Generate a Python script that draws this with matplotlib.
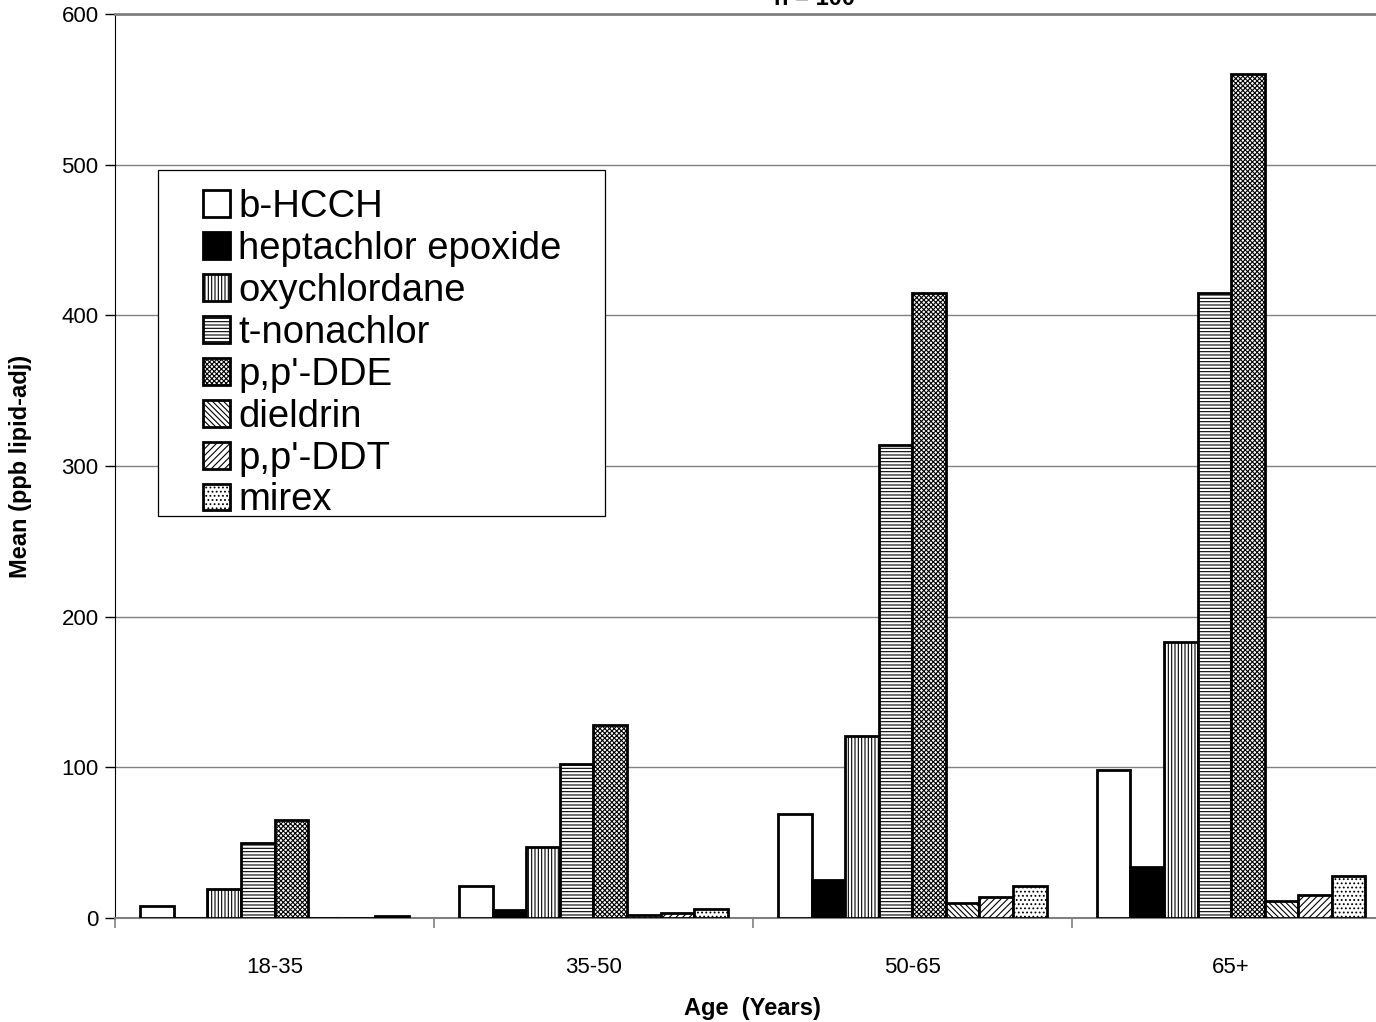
import matplotlib.pyplot as plt
from matplotlib.patches import Rectangle
import numpy as np

plt.rcParams['font.family'] = ['Liberation Sans', 'DejaVu Sans']
plt.rcParams['hatch.linewidth'] = 0.8

# === Données ===
ages = ['18-35', '35-50', '50-65', '65+']
composes = ['b-HCCH', 'heptachlor epoxide', 'oxychlordane', 't-nonachlor',
            "p,p'-DDE", 'dieldrin', "p,p'-DDT", 'mirex']

b_hcch = [8, 21, 69, 98]
heptachlor = [0, 5, 25, 34]
oxychlordane = [19, 47, 121, 183]
t_nonachlor = [50, 102, 314, 415]
pp_dde = [65, 128, 415, 560]
dieldrin = [0, 2, 10, 11]
pp_ddt = [0, 3, 14, 15]
mirex = [1, 6, 21, 28]

series = [b_hcch, heptachlor, oxychlordane, t_nonachlor, pp_dde, dieldrin, pp_ddt, mirex]

# remplissage et motif par composé
styles = [
    ('white', ''),
    ('black', ''),
    ('white', '|||||'),
    ('white', '-----'),
    ('white', 'xxxxxxx'),
    ('white', '\\\\\\\\\\\\'),
    ('white', '/////'),
    ('white', '....'),
]

W, H = 1376, 1022
fig = plt.figure(figsize=(W / 100, H / 100), dpi=100)
ax = fig.add_axes([115.2 / W, 104 / H, 1275.4 / W, 904 / H])

x = np.arange(len(ages))
larg = 1 / 9.5
for i, (vals, (fc, hatch)) in enumerate(zip(series, styles)):
    ax.bar(x + (i - 3.5) * larg, vals, larg, color=fc, hatch=hatch,
           edgecolor='black', linewidth=2.0, label=composes[i], zorder=3)

ax.set_xlim(-0.5, 3.5)
ax.set_ylim(0, 600)
ax.set_yticks(range(0, 601, 100))
ax.yaxis.grid(True, color='#808080', linewidth=1.0, zorder=0)

ax.set_xticks(x)
ax.set_xticklabels(ages, fontsize=16)
ax.set_xticks(np.arange(-0.5, 4, 1), minor=True)
ax.tick_params(axis='x', which='major', length=0, pad=28)
ax.tick_params(axis='x', which='minor', length=7, color='#808080', width=1.2)
ax.tick_params(axis='y', length=7, width=1.0, labelsize=16, pad=5)

ax.spines['right'].set_visible(False)
ax.spines['top'].set_color('#808080')
ax.spines['top'].set_linewidth(2.0)
ax.spines['bottom'].set_color('#808080')
ax.spines['bottom'].set_linewidth(1.5)
ax.spines['left'].set_color('black')

ax.set_xlabel('Age  (Years)', fontsize=17, fontweight='bold', labelpad=14)
ax.set_ylabel('Mean (ppb lipid-adj)', fontsize=17, fontweight='bold', labelpad=21)

fig.text(815 / W, 1 - 5 / H, 'n = 100', ha='center', va='baseline',
         fontsize=17, fontweight='bold')

# légende avec cadre dessiné à part
fig.patches.append(Rectangle((158 / W, 1 - 516 / H), (605 - 158) / W, (516 - 170) / H,
                             transform=fig.transFigure, facecolor='white',
                             edgecolor='black', linewidth=0.9, zorder=5))
leg = fig.legend(loc='upper left', bbox_to_anchor=(203 / W, 1 - 189 / H),
                 frameon=False, fontsize=27.5, borderpad=0, borderaxespad=0,
                 handlelength=0.7, handleheight=0.7, handletextpad=0.22,
                 labelspacing=0.155)
leg.set_zorder(6)

fig.savefig('out.png', dpi=100)
